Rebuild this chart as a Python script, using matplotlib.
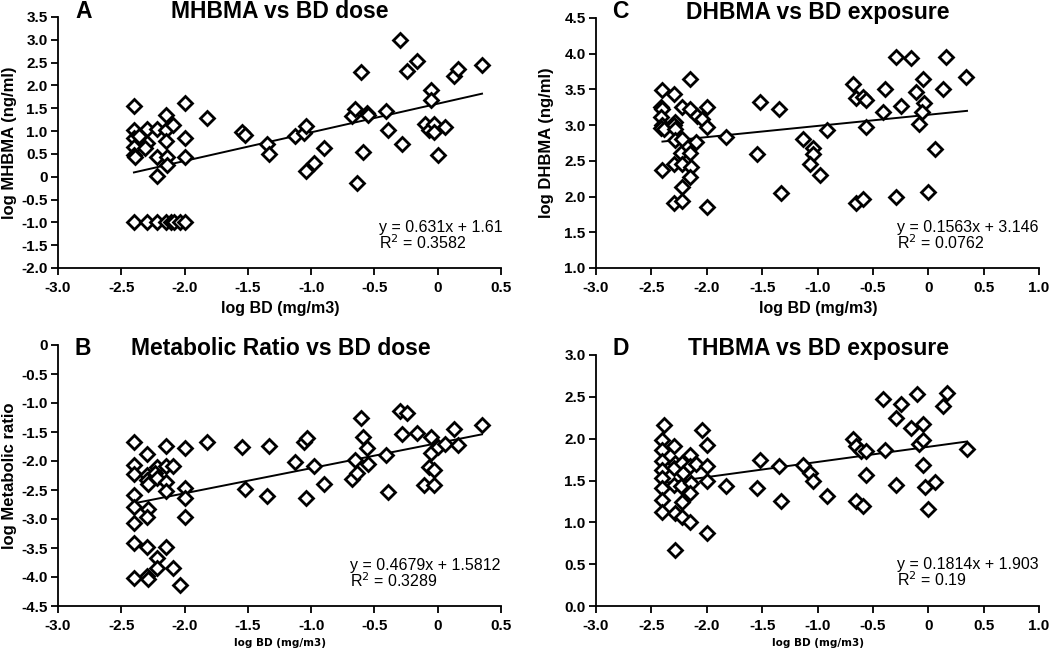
import matplotlib
matplotlib.use("Agg")
import matplotlib.pyplot as plt
import numpy as np
from matplotlib.ticker import FixedLocator, FuncFormatter

plt.rcParams['font.family'] = ['Liberation Sans', 'DejaVu Sans']

# ---------------- Panel A: MHBMA vs BD dose ----------------
a_x = [-2.40, -2.40, -2.40, -2.36, -2.40, -2.40, -2.39, -2.30, -2.30, -2.31,
       -2.22, -2.22, -2.22, -2.15, -2.15, -2.15, -2.14, -2.14, -2.09, -2.00,
       -2.00, -2.00, -1.82, -1.55, -1.52, -1.35, -1.33, -1.13, -1.06, -1.04,
       -1.04, -0.98, -0.90, -0.68, -0.65, -0.61, -0.59, -0.64, -0.56, -0.55,
       -0.41, -0.39, -0.30, -0.28, -0.24, -0.16, -0.10, -0.07, -0.05, -0.05,
       -0.03, -0.03, 0.00, 0.06, 0.13, 0.16, 0.35,
       -2.40, -2.30, -2.22, -2.15, -2.11, -2.08, -2.04, -2.00]
a_y = [1.55, 1.03, 0.85, 0.90, 0.66, 0.48, 0.44, 1.04, 0.73, 0.62,
       1.04, 0.44, 0.01, 1.36, 1.03, 0.79, 0.44, 0.26, 1.14, 1.61,
       0.85, 0.44, 1.28, 0.97, 0.92, 0.72, 0.50, 0.90, 0.95, 1.12,
       0.13, 0.30, 0.63, 1.34, 1.48, 2.30, 0.55, -0.14, 1.39, 1.35,
       1.45, 1.03, 3.00, 0.72, 2.32, 2.54, 1.16, 1.03, 1.89, 1.68,
       1.16, 0.97, 0.47, 1.08, 2.21, 2.36, 2.44,
       -1.0, -1.0, -1.0, -1.0, -1.0, -1.0, -1.0, -1.0]
a_fit_x = [-2.40, 0.35]
a_fit_y = [0.094, 1.82]

# ---------------- Panel B: Metabolic Ratio vs BD dose ----------------
b_x = [-2.40, -2.40, -2.40, -2.40, -2.40, -2.40, -2.40, -2.40,
       -2.30, -2.30, -2.30, -2.29, -2.29, -2.30, -2.30, -2.30, -2.29,
       -2.22, -2.23, -2.22, -2.22, -2.22,
       -2.15, -2.15, -2.15, -2.15, -2.15,
       -2.09, -2.09, -2.04, -2.00, -2.00, -2.00, -2.00,
       -1.82, -1.55, -1.52, -1.35, -1.33, -1.13, -1.06, -1.03, -1.04, -0.98,
       -0.90, -0.68, -0.65, -0.64, -0.61, -0.59, -0.56, -0.55, -0.41, -0.39,
       -0.30, -0.245, -0.28, -0.16, -0.105, -0.07, -0.05, -0.05, -0.03, -0.03,
       0.005, 0.06, 0.13, 0.16, 0.35]
b_y = [-1.68, -2.07, -2.22, -2.59, -2.79, -3.07, -3.41, -4.01,
       -1.88, -2.24, -2.33, -2.39, -2.83, -2.97, -3.48, -3.99, -4.04,
       -2.10, -2.21, -2.30, -3.68, -3.85,
       -1.74, -2.09, -2.37, -2.51, -3.49,
       -2.08, -3.84, -4.13, -1.77, -2.46, -2.63, -2.97,
       -1.68, -1.76, -2.49, -2.60, -1.74, -2.01, -1.68, -1.61, -2.64, -2.09,
       -2.39, -2.31, -1.99, -2.21, -1.25, -1.59, -1.78, -2.05, -1.90, -2.54,
       -1.13, -1.18, -1.53, -1.51, -2.41, -2.10, -1.59, -1.87, -2.16, -2.41,
       -1.76, -1.71, -1.45, -1.72, -1.38]
b_fit_x = [-2.40, 0.35]
b_fit_y = [-2.73, -1.54]

# ---------------- Panel C: DHBMA vs BD exposure ----------------
c_x = [-2.40, -2.41, -2.40, -2.41, -2.40, -2.41, -2.39,
       -2.30, -2.29, -2.30, -2.29, -2.29, -2.30, -2.30, -2.40,
       -2.22, -2.22, -2.23, -2.22, -2.22, -2.22,
       -2.15, -2.15, -2.15, -2.14, -2.15, -2.09, -2.10, -2.04,
       -2.00, -2.00, -2.00, -1.83, -1.55, -1.52, -1.35, -1.33, -1.13,
       -1.04, -1.04, -1.07, -0.98, -0.91, -0.68, -0.65, -0.59, -0.56, -0.56,
       -0.65, -0.59, -0.41, -0.39, -0.29, -0.25, -0.29, -0.16, -0.11, -0.08,
       -0.045, -0.035, -0.06, 0.00, 0.06, 0.135, 0.16, 0.34]
c_y = [3.49, 3.26, 3.22, 3.12, 3.00, 2.96, 2.94,
       3.44, 3.05, 3.00, 2.94, 2.79, 2.45, 1.91, 2.37,
       3.26, 2.80, 2.61, 2.45, 2.13, 1.94,
       3.65, 3.23, 2.61, 2.42, 2.28, 3.13, 2.77, 3.08,
       3.26, 2.97, 1.86, 2.83, 2.59, 3.32, 3.22, 2.05, 2.80,
       2.68, 2.59, 2.46, 2.30, 2.93, 3.57, 3.38, 3.39, 3.35, 2.98,
       1.91, 1.96, 3.18, 3.50, 3.96, 3.27, 2.00, 3.94, 3.47, 3.01,
       3.65, 3.31, 3.19, 2.06, 2.67, 3.50, 3.96, 3.67]
c_fit_x = [-2.40, 0.35]
c_fit_y = [2.77, 3.20]

# ---------------- Panel D: THBMA vs BD exposure ----------------
d_x = [-2.39, -2.40, -2.40, -2.40, -2.40, -2.40, -2.40, -2.40, -2.40,
       -2.30, -2.29, -2.30, -2.30, -2.29, -2.29,
       -2.22, -2.21, -2.23, -2.22, -2.22,
       -2.15, -2.15, -2.14, -2.15, -2.15, -2.10,
       -2.04, -2.00, -2.00, -2.00, -2.00,
       -1.83, -1.55, -1.52, -1.35, -1.33, -1.13, -1.07, -1.04, -0.91,
       -0.68, -0.65, -0.61, -0.56, -0.65, -0.59, -0.56, -0.41, -0.39,
       -0.29, -0.25, -0.29, -0.16, -0.105, -0.08, -0.045, -0.045, -0.045,
       -0.03, 0.00, 0.06, 0.135, 0.166, 0.346]
d_y = [2.16, 1.98, 1.86, 1.73, 1.62, 1.53, 1.41, 1.27, 1.12,
       1.91, 1.71, 1.65, 1.45, 1.11, 0.67,
       1.71, 1.59, 1.43, 1.24, 1.06,
       1.80, 1.67, 1.47, 1.35, 1.00, 1.70,
       2.10, 1.93, 1.67, 1.49, 0.87,
       1.44, 1.41, 1.74, 1.67, 1.26, 1.68, 1.59, 1.50, 1.31,
       2.00, 1.91, 1.85, 1.85, 1.25, 1.19, 1.57, 2.47, 1.87,
       2.25, 2.41, 1.45, 2.13, 2.53, 1.94, 2.17, 1.99, 1.69,
       1.42, 1.16, 1.48, 2.39, 2.54, 1.88]
d_fit_x = [-2.40, 0.35]
d_fit_y = [1.468, 1.966]

# ---------------- Text ----------------
letters = ["A", "B", "C", "D"]
titles = ["MHBMA vs BD dose", "Metabolic Ratio vs BD dose",
          "DHBMA vs BD exposure", "THBMA vs BD exposure"]
ylabels = ["log MHBMA (ng/ml)", "log Metabolic ratio", "log DHBMA (ng/ml)", ""]
xlabel = "log BD (mg/m3)"
eqs = ["y = 0.631x + 1.61\nR$^2$ = 0.3582",
       "y = 0.4679x + 1.5812\nR$^2$ = 0.3289",
       "y = 0.1563x + 3.146\nR$^2$ = 0.0762",
       "y = 0.1814x + 1.903\nR$^2$ = 0.19"]

xticks_ab = [-3.0, -2.5, -2.0, -1.5, -1.0, -0.5, 0.0, 0.5]
xticks_cd = [-3.0, -2.5, -2.0, -1.5, -1.0, -0.5, 0.0, 0.5, 1.0]
yticks_a = [-2.0, -1.5, -1.0, -0.5, 0.0, 0.5, 1.0, 1.5, 2.0, 2.5, 3.0, 3.5]
yticks_b = [-4.5, -4.0, -3.5, -3.0, -2.5, -2.0, -1.5, -1.0, -0.5, 0.0]
yticks_c = [1.0, 1.5, 2.0, 2.5, 3.0, 3.5, 4.0, 4.5]
yticks_d = [0.0, 0.5, 1.0, 1.5, 2.0, 2.5, 3.0]

W, H = 1050, 648
fig = plt.figure(figsize=(W / 100, H / 100), dpi=100)


def px_axes(x0, x1, ytop, ybot):
    return fig.add_axes([x0 / W, (H - ybot) / H, (x1 - x0) / W, (ybot - ytop) / H])


def fmt_zero(zero_str):
    def f(v, pos):
        if abs(v) < 1e-9:
            return zero_str
        return f"{v:.1f}"
    return FuncFormatter(f)


panels = [
    dict(pos=(58, 501, 17, 268), x=a_x, y=a_y, fx=a_fit_x, fy=a_fit_y,
         xt=xticks_ab, yt=yticks_a, yzero="0", eqpos=(379, 236)),
    dict(pos=(58, 501, 345, 606), x=b_x, y=b_y, fx=b_fit_x, fy=b_fit_y,
         xt=xticks_ab, yt=yticks_b, yzero="0", eqpos=(350, 574)),
    dict(pos=(596, 1039, 18, 268), x=c_x, y=c_y, fx=c_fit_x, fy=c_fit_y,
         xt=xticks_cd, yt=yticks_c, yzero="0", eqpos=(897, 236)),
    dict(pos=(596, 1039, 355, 606), x=d_x, y=d_y, fx=d_fit_x, fy=d_fit_y,
         xt=xticks_cd, yt=yticks_d, yzero="0.0", eqpos=(897, 573)),
]

title_pos = [(75, 280, 12), (75, 281, 348), (612, 818, 12), (612, 818, 348)]
ylabel_x = [10, 10, 547, None]
xlabel_y = [309, 643, 309, 643]
xlabel_x = [280, 280, 818, 818]

for i, p in enumerate(panels):
    x0, x1, yt0, yb0 = p["pos"]
    ax = px_axes(x0, x1, yt0, yb0)
    ax.plot(p["x"], p["y"], linestyle="none", marker="D", markersize=7,
            markerfacecolor="white", markeredgecolor="black",
            markeredgewidth=2.0, zorder=3)
    ax.plot(p["fx"], p["fy"], color="black", linewidth=1.4, zorder=2)
    ax.set_xlim(p["xt"][0], p["xt"][-1])
    ax.set_ylim(p["yt"][0], p["yt"][-1])
    ax.xaxis.set_major_locator(FixedLocator(p["xt"]))
    ax.yaxis.set_major_locator(FixedLocator(p["yt"]))
    ax.xaxis.set_major_formatter(fmt_zero("0"))
    ax.yaxis.set_major_formatter(fmt_zero(p["yzero"]))
    for s in ["top", "right"]:
        ax.spines[s].set_visible(False)
    for s in ["left", "bottom"]:
        ax.spines[s].set_linewidth(1.3)
    ax.tick_params(axis="both", direction="out", length=5, width=1.3,
                   labelsize=11)
    ax.tick_params(axis="x", pad=4.5)
    ax.tick_params(axis="y", pad=2.5)
    for lab in ax.get_xticklabels() + ax.get_yticklabels():
        lab.set_fontweight("bold")
    ax.patch.set_alpha(0)

    # equation
    ex, ey = p["eqpos"]
    fig.text(ex / W, 1 - ey / H, eqs[i], ha="left", va="center",
             fontsize=11.5, linespacing=0.95)

    # titles
    lx, tx, ty = title_pos[i]
    fig.text(lx / W, 1 - ty / H, letters[i], ha="left", va="center",
             fontsize=16.5, fontweight="bold")
    fig.text(tx / W, 1 - ty / H, titles[i], ha="center", va="center",
             fontsize=16.5, fontweight="bold")

    # y label
    if ylabels[i]:
        fig.text(ylabel_x[i] / W, 1 - ((yt0 + yb0) / 2) / H, ylabels[i],
                 rotation=90, ha="center", va="center", fontsize=12,
                 fontweight="bold")

    # x label
    if i in (0, 2):
        fig.text(xlabel_x[i] / W, 1 - xlabel_y[i] / H, xlabel,
                 ha="center", va="center", fontsize=11.5, fontweight="bold")
    else:
        fig.text(xlabel_x[i] / W, 1 - xlabel_y[i] / H, xlabel,
                 ha="center", va="center", fontsize=7.5, fontweight="bold",
                 family=["DejaVu Sans"])

fig.savefig("out.png", dpi=100)
